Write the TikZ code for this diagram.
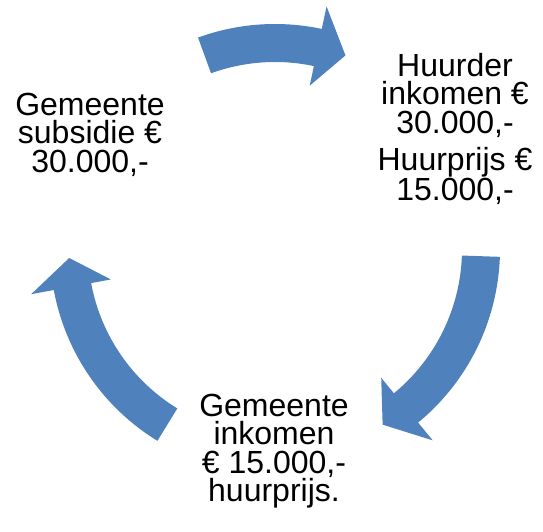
\documentclass[tikz,border=0pt]{standalone}
\usepackage{fontspec}
\setmainfont{Liberation Sans}
\usetikzlibrary{positioning}
\definecolor{cycleblue}{RGB}{79,129,189}

\begin{document}
\begin{tikzpicture}[x=1pt, y=1pt,
        arrowshape/.style={fill=cycleblue, draw=none},
        textnode/.style={inner sep=0pt, align=center, font=\fontsize{32}{28.5}\selectfont, anchor=base},
        ]
        \useasboundingbox (-275,-282) rectangle (268,249);
        %Arrows
        \foreach \from/\neck/\tip in {110/78/70, -2/-50.5/-58.5, 238.5/190.5/182.5}
            \fill[arrowshape] (\from:225) arc[start angle=\from, end angle=\neck, radius=225] -- (\neck:248) -- (\tip:206) -- (\neck:167) -- (\neck:187) arc[start angle=\neck, end angle=\from, radius=187] -- cycle;
        %Nodes
        \node[textnode] (subsidie) at (-185,77) {Gemeente\\subsidie €\\30.000,-};
        \node[textnode] (huurder) at (180,116) {Huurder\\inkomen €\\30.000,-};
        \node[textnode] (huurprijs) [below=10pt of huurder] {Huurprijs €\\15.000,-};
        \node[textnode] (inkomen) at (-1,-252.7) {Gemeente\\inkomen\\€ 15.000,-\\huurprijs.};
\end{tikzpicture}
\end{document}
